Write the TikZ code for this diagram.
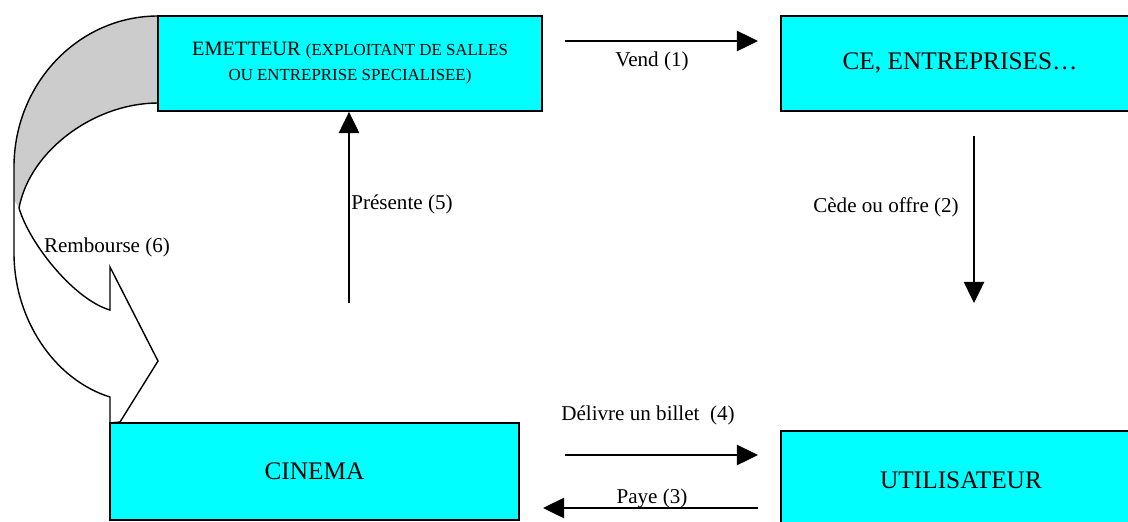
\documentclass[tikz,border=0pt]{standalone}
\usepackage{fontspec}
\setmainfont{Liberation Serif}
\usetikzlibrary{arrows.meta,positioning}
\definecolor{BoxCyan}{RGB}{0,255,255}
\definecolor{RibbonGray}{RGB}{204,204,204}
\newcommand{\petit}[1]{{\fontsize{12}{17.8}\selectfont #1}}
\tikzset{
  cbox/.style={rectangle,draw=black,fill=BoxCyan,line width=1.3pt,
               inner sep=0pt,align=center,
               font=\fontsize{18}{21}\selectfont},
  ebox/.style={cbox,font=\fontsize{14.5}{17.8}\selectfont},
  flow/.style={-{Triangle[length=15pt,width=14.5pt]},line width=0.9pt},
  flab/.style={anchor=base,inner sep=0pt,font=\fontsize{15}{18}\selectfont},
}
\begin{document}
\begin{tikzpicture}[x=0.025cm,y=-0.025cm]
  \useasboundingbox (0,0) rectangle (1128,521);
  \clip (0,0) rectangle (1128,521);
  % ribbon arrow (6)
  \fill[RibbonGray] (158,16) .. controls (78.5,16) and (14,83.6) .. (14,167)
    -- (14,200) -- (19,208) .. controls (30,150) and (95,103) .. (158,103) -- cycle;
  \draw[line width=1pt,line join=miter] (158,16) .. controls (78.5,16) and (14,83.6) .. (14,167)
    -- (14,253) .. controls (14,320) and (55,380) .. (110,397)
    -- (110,423) -- (120,422) -- (158,361) -- (110,267) -- (110,310)
    .. controls (75,300) and (30,245) .. (19,208)
    .. controls (30,150) and (95,103) .. (158,103);
  % boxes
  \node[ebox,minimum width=9.6cm,minimum height=2.375cm] (emet) at (350,63.5)
    {EMETTEUR \petit{(EXPLOITANT DE SALLES}\\ \petit{OU ENTREPRISE SPECIALISEE)}};
  \node[cbox,minimum width=8.95cm,minimum height=2.375cm] (ce) at (960,63.5)
    {CE, ENTREPRISES\ldots};
  \node[cbox,minimum width=10.225cm,minimum height=2.425cm] (cine) at (314.5,471.5)
    {CINEMA};
  \node[cbox,minimum width=9cm,minimum height=2.475cm] (util) at (961,480.5)
    {UTILISATEUR};
  % arrow ends
  \coordinate (v1) at (565,41);
  \coordinate (v2) at (758,41);
  \coordinate (c1) at (974,136);
  \coordinate (c2) at (974,303);
  \coordinate (d1) at (565,455);
  \coordinate (d2) at (758,455);
  \coordinate (p1) at (758,508);
  \coordinate (p2) at (543,508);
  \coordinate (r1) at (349,303);
  % arrows
  \draw[flow] (v1) -- (v2);
  \draw[flow] (c1) -- (c2);
  \draw[flow] (d1) -- (d2);
  \draw[flow] (p1) -- (p2);
  \draw[flow] (r1) -- (r1 |- emet.south);
  % labels
  \node[flab] (lvend) at (652,66) {Vend (1)};
  \node[flab] (lcede) at (886,212.5) {Cède ou offre (2)};
  \node[flab] (lpaye) at (652,503) {Paye (3)};
  \node[flab] (ldeli) at (648,420) {Délivre un billet\ \ (4)};
  \node[flab,anchor=base west] (lpres) at (351,209) {Présente (5)};
  \node[flab] (lremb) at (107,252) {Rembourse (6)};
\end{tikzpicture}
\end{document}
